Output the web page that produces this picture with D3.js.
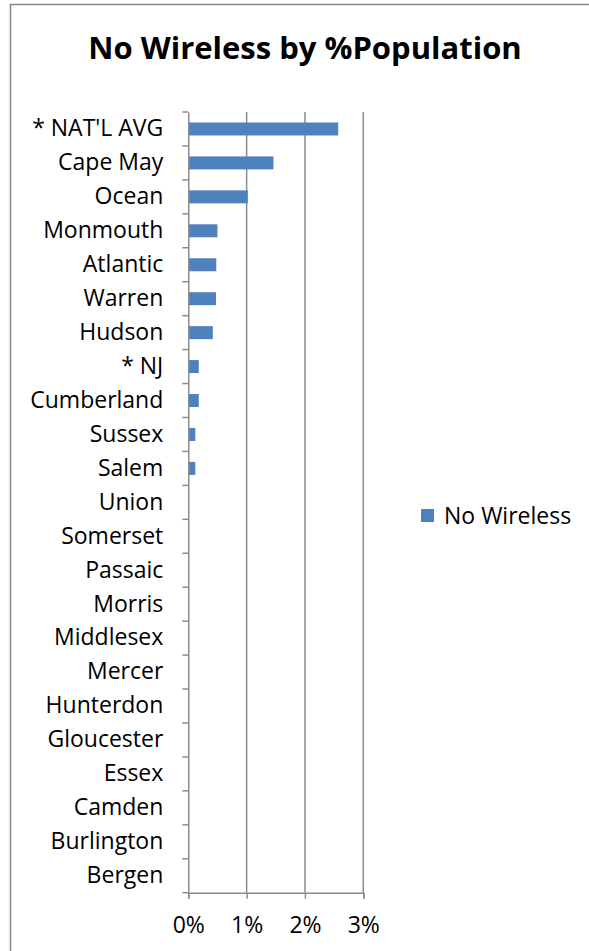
<!DOCTYPE html>
<html>
<head>
<meta charset="utf-8">
<script src="https://cdn.jsdelivr.net/npm/d3@7"></script>
<style>
  body { margin: 0; background: #fff; }
  svg { display: block; font-family: "Open Sans", "Noto Sans", sans-serif; }
</style>
</head>
<body>
<div id="chart"></div>
<script>
// categories top to bottom and their share (%) without wireless
const counties = ["* NAT'L AVG", "Cape May", "Ocean", "Monmouth", "Atlantic", "Warren", "Hudson",
  "* NJ", "Cumberland", "Sussex", "Salem", "Union", "Somerset", "Passaic", "Morris", "Middlesex",
  "Mercer", "Hunterdon", "Gloucester", "Essex", "Camden", "Burlington", "Bergen"];
const noWireless = [2.57, 1.46, 1.02, 0.50, 0.48, 0.475, 0.42, 0.18, 0.18, 0.12, 0.12,
  0, 0, 0, 0, 0, 0, 0, 0, 0, 0, 0, 0];
const xTicks = [0, 1, 2, 3];

const W = 589, H = 951;
const margin = { top: 112, right: 225.7, bottom: 58.3, left: 188.3 };
const width = W - margin.left - margin.right;
const height = H - margin.top - margin.bottom;
const grey = "#8c8c8c";

const svg = d3.select("#chart").append("svg").attr("width", W).attr("height", H);

// outer chart frame
svg.append("rect")
  .attr("x", 10.5).attr("y", 4.5)
  .attr("width", W).attr("height", H)
  .attr("fill", "none").attr("stroke", "#888").attr("stroke-width", 1.5);

svg.append("text")
  .attr("x", 305).attr("y", 59)
  .attr("text-anchor", "middle")
  .style("font-size", "31px").style("font-weight", "bold")
  .text("No Wireless by %Population");

const g = svg.append("g").attr("transform", `translate(${margin.left},${margin.top})`);

const x = d3.scaleLinear().domain([0, 3]).range([0, width]);
const y = d3.scaleBand().domain(counties).range([0, height]);

// vertical gridlines
g.selectAll(".grid").data(xTicks.slice(1)).enter().append("line")
  .attr("class", "grid")
  .attr("x1", d => x(d)).attr("x2", d => x(d))
  .attr("y1", 0).attr("y2", height)
  .attr("stroke", grey).attr("stroke-width", 1.5);

const barH = 13;
g.selectAll(".bar").data(counties).enter().append("rect")
  .attr("class", "bar")
  .attr("x", 0)
  .attr("y", d => y(d) + y.bandwidth() / 2 - barH / 2)
  .attr("width", (d, i) => x(noWireless[i]))
  .attr("height", barH)
  .attr("fill", "#4f81bd");

// y axis
const yAxis = g.append("g")
  .call(d3.axisLeft(y).tickSize(0).tickPadding(25));
yAxis.select(".domain").attr("stroke", grey).attr("stroke-width", 1.5);
yAxis.selectAll("text").style("font-size", "23px").attr("fill", "#000")
  .style("font-family", "'Open Sans', sans-serif");

// category separator ticks
g.selectAll(".ytick").data(d3.range(counties.length + 1)).enter().append("line")
  .attr("x1", -6).attr("x2", 0)
  .attr("y1", i => i * y.step()).attr("y2", i => i * y.step())
  .attr("stroke", grey).attr("stroke-width", 1.5);

// x axis
const xAxis = g.append("g")
  .attr("transform", `translate(0,${height})`)
  .call(d3.axisBottom(x).tickValues(xTicks).tickSize(6).tickPadding(18).tickFormat(d => d + "%"));
xAxis.select(".domain").attr("stroke", grey).attr("stroke-width", 1.5);
xAxis.selectAll("line").attr("stroke", grey).attr("stroke-width", 1.5);
xAxis.selectAll("text").style("font-size", "23px").attr("fill", "#000")
  .style("font-family", "'Open Sans', sans-serif");

// legend
const legend = svg.append("g").attr("transform", "translate(421,509)");
legend.append("rect").attr("width", 13).attr("height", 13).attr("fill", "#4f81bd");
legend.append("text").attr("x", 23).attr("y", 6.5).attr("dy", "0.35em")
  .style("font-size", "23px").text("No Wireless");
</script>
</body>
</html>
